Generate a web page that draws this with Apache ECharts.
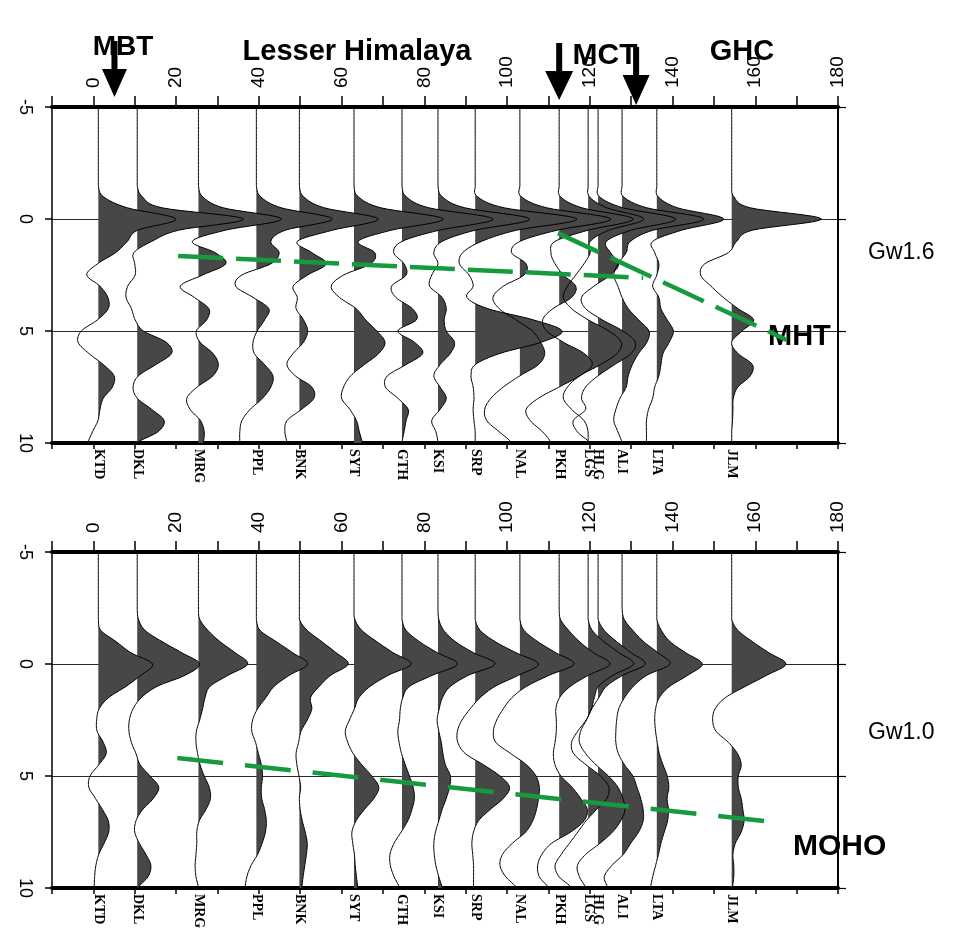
<!DOCTYPE html>
<html>
<head>
<meta charset="utf-8">
<script src="https://cdn.jsdelivr.net/npm/echarts@6.0.0/dist/echarts.min.js"></script>
<style>
  html, body { margin: 0; padding: 0; background: #ffffff; }
  #chart { width: 968px; height: 932px; }
</style>
</head>
<body>
<div id="chart"></div>
<script>
// Sample times (s) shared by every receiver-function trace
const TIME = [-5, -4.5, -4, -3.5, -3, -2.5, -2, -1.5, -1, -0.5, 0, 0.5, 1, 1.5, 2, 2.5,
              3, 3.5, 4, 4.5, 5, 5.5, 6, 6.5, 7, 7.5, 8, 8.5, 9, 9.5, 10];

// Stations along the profile and their distance (km)
const STATIONS = ['KTD', 'DKL', 'MRG', 'PPL', 'BNK', 'SYT', 'GTH', 'KSI',
                  'SRP', 'NAL', 'PKH', 'LGS', 'HLG', 'ALI', 'LTA', 'JLM'];
const DISTANCE = [1.2, 10.6, 25.4, 39.4, 49.8, 63.0, 74.6, 83.3,
                  92.3, 103.1, 112.6, 119.6, 122.0, 127.8, 136.2, 154.3];

// Distance axis tick labels (km) and time axis ticks (s)
const DIST_LABELS = [0, 20, 40, 60, 80, 100, 120, 140, 160, 180];
const TIME_TICKS = [-5, 0, 5, 10];

// Gaussian width 1.6 traces (deflection in km of the distance axis)
const KTD_16 = [0,0,0,0,0,0,0,0, 1.2, 7.0, 18.8, 9.5, 7.0, 4.2, -0.2, -2.8, 0.4, 2.3, 2.4, -0.2, -4.1, -4.9, -2.3, 1.2, 3.8, 3.4, 1.2, 0.4, -0.1, -1.4, -2.5];
const DKL_16 = [0,0,0,0,0,0,0,0, 1.2, 6.0, 25.7, 10.0, 3.5, -0.8, -0.6, -0.5, -2.3, -2.7, -1.4, -0.5, 1.5, 7.0, 8.3, 4.5, 0.3, -1.0, 0.0, 3.5, 6.5, 5.0, 0];
const MRG_16 = [0,0,0,0,0,0,0,0, 1.0, 6.0, 20.1, 6.5, -1.5, 4.0, 6.6, 1.0, -4.4, -1.0, 2.5, 2.0, -0.5, 0.4, 3.5, 4.8, 3.5, -0.3, -2.8, -2.0, 0.5, 1.4, 1.2];
const PPL_16 = [0,0,0,0,0,0,0,0, 1.0, 6.0, 18.4, 7.0, 3.5, 5.5, 3.5, -3.5, -5.0, -0.8, 3.0, 2.0, 0.2, -0.8, -0.5, 2.0, 4.0, 3.5, 1.5, -1.5, -3.5, -4.0, -4.0];
const BNK_16 = [0,0,0,0,0,0,0,0, 1.0, 6.0, 19.1, 8.0, -0.5, 3.0, 6.5, 2.0, -1.5, -0.5, -0.8, 1.0, 2.0, 1.0, -1.5, -3.0, -1.0, 3.0, 3.5, 0.5, -3.0, -3.5, -3.0];
const SYT_16 = [0,0,0,0,0,0,0,0, 1.0, 6.5, 21.6, 9.0, 1.0, 5.0, 4.0, -2.5, -5.5, -3.5, 0.5, 2.8, 5.5, 7.5, 6.0, 2.5, -0.8, -2.5, -3.0, -1.0, 0.6, 1.3, 2.0];
const GTH_16 = [0,0,0,0,0,0,0,0, 1.0, 6.5, 22.0, 9.0, 0, -2.0, 0.5, 1.0, -2.5, -1.5, 2.5, 3.5, -1.0, 3.0, 5.0, 1.0, -3.5, -4.0, -1.0, 1.5, 1.0, 0.5, 0];
const KSI_16 = [0,0,0,0,0,0,0,0, 1.0, 6.5, 22.2, 9.0, 1.0, -1.0, 0, -1.5, -2.0, 1.0, 2.0, 1.5, 2.0, 4.0, 3.0, 0.5, -1.0, 0.5, 2.0, 0.5, -1.5, -0.5, 0];
const SRP_16 = [0,0,0,0,0,0,0,0, 0.5, 7.0, 24.6, 10.0, 1.5, -3.0, -3.8, -1.5, -0.5, -2.0, 3.0, 14.0, 21.0, 16.0, 6.0, 0, -1.0, -0.5, -0.3, -0.5, -0.3, 0, 0];
const NAL_16 = [0,0,0,0,0,0,0,0, 0.3, 6.5, 22.0, 9.0, 0, -2.0, 1.5, 1.0, -4.0, -6.5, -5.0, -1.0, 3.0, 5.0, 6.0, 4.5, 0, -4.0, -7.0, -8.5, -8.0, -5.0, -2.0];
const PKH_16 = [0,0,0,0,0,0,0,0, 0.3, 5.5, 17.9, 7.0, -1.0, -2.0, -1.0, 1.0, 4.0, 3.0, -1.5, -4.0, -3.0, 1.0, 6.0, 8.0, 5.0, 0, -5.0, -8.0, -7.0, -4.0, -2.0];
const LGS_16 = [0,0,0,0,0,0,0,0, 0.3, 4.5, 13.5, 5.0, 0.5, 0.5, -1.0, -3.0, -5.0, -6.0, -4.0, 0, 5.0, 8.0, 7.0, 3.0, -2.0, -5.0, -6.0, -4.0, -1.0, 0, 0];
const HLG_16 = [0,0,0,0,0,0,0,0, 0.3, 6.0, 18.8, 8.0, 2.0, 3.0, 5.0, 3.0, -1.0, -4.0, -3.0, 1.0, 6.0, 9.0, 8.0, 4.0, 0, -3.0, -4.0, -3.0, -6.0, -5.0, -2.0];
const ALI_16 = [0,0,0,0,0,0,0,0, 0.3, 6.0, 19.8, 7.5, 2.0, 1.0, -1.0, -2.0, -1.0, 0, 1.5, 4.0, 6.5, 6.0, 4.0, 2.5, 1.5, 1.0, -0.5, -1.5, -2.0, -1.0, 0];
const LTA_16 = [0,0,0,0,0,0,0,0, 0.3, 5.0, 16.2, 6.0, -1.0, -0.5, 0.5, 0, -1.0, 0.5, 1.0, 2.5, 4.0, 3.0, 1.5, 1.0, 0.5, -0.5, -1.0, -2.0, -2.5, -2.5, -2.5];
const JLM_16 = [0,0,0,0,0,0,0,0, 0.5, 4.5, 21.7, 5.0, 1.2, -0.8, -6.5, -7.5, -5.0, -2.0, 1.5, 5.3, 2.5, 0, 1.5, 5.0, 4.5, 1.5, 0.4, 0.3, 0.2, 0, 0];

// Gaussian width 1.0 traces
const KTD_10 = [0,0,0,0,0,0,0, 0.6, 4.3, 7.9, 13.1, 10.3, 6.7, 2.5, 0.2, -0.4, -0.3, 1.2, 1.9, 0.1, -2.0, -2.3, -0.7, 1.0, 2.4, 2.5, 1.4, 0.1, -0.6, -0.9, -1.0];
const DKL_10 = [0,0,0,0,0,0, 0.3, 1.9, 6.0, 10.8, 15.1, 11.6, 4.8, 1.0, -1.0, -1.9, -2.0, -1.4, -0.3, 0.7, 3.1, 5.2, 3.9, 1.3, -0.3, -0.6, 0.5, 2.1, 3.3, 2.6, 0.2];
const MRG_10 = [0,0,0,0,0,0, 0.3, 2.3, 5.2, 8.9, 11.9, 7.2, 2.8, 1.6, 1.0, 0.3, -0.5, -0.6, -0.2, 0.4, 1.4, 2.6, 2.9, 1.8, 0.2, -0.4, -0.4, -0.6, -0.8, -0.6, 0];
const PPL_10 = [0,0,0,0,0,0,0, 0.9, 4.8, 8.8, 12.4, 8.0, 4.3, 2.3, 0.3, -0.9, -1.1, -0.2, 0.5, 1.2, 1.5, 1.2, 1.3, 2.0, 2.4, 2.2, 1.4, 0.3, -1.3, -2.3, -2.7];
const BNK_10 = [0,0,0,0,0,0,0, 1.9, 5.4, 8.9, 11.8, 7.6, 4.8, 2.7, 3.0, 1.9, 0.4, -0.2, -0.8, -0.6, -0.1, 0.3, 0, 0.2, 0.7, 1.4, 1.9, 1.7, 1.3, 0.9, 0.6];
const SYT_10 = [0,0,0,0,0,0, 0.2, 1.9, 5.5, 9.5, 13.8, 8.3, 3.9, 1.2, 0.1, -1.1, -2.1, -1.5, -0.2, 1.9, 4.3, 6.0, 4.8, 2.5, 0.5, -0.5, -0.3, 0.1, 0.3, 0.6, 0.9];
const GTH_10 = [0,0,0,0,0,0,0, 1.0, 4.2, 8.6, 13.4, 7.4, 1.8, 0.2, -0.4, -0.6, -1.0, -0.7, -0.1, 0.8, 1.8, 2.7, 3.0, 2.4, 1.4, -0.2, -1.9, -2.9, -2.8, -1.9, -0.6];
const KSI_10 = [0,0,0,0,0,0, 0.2, 1.4, 4.2, 8.6, 13.8, 7.4, 3.0, 1.1, 0.3, -0.2, 0.2, 0.8, 1.2, 1.8, 3.0, 2.8, 2.0, 1.0, 0.2, -0.6, -1.0, -0.9, -0.5, 0.2, 1.0];
const SRP_10 = [0,0,0,0,0,0,0, 1.2, 4.8, 9.9, 15.3, 10.5, 4.8, 1.2, -1.2, -3.2, -4.3, -4.2, -2.4, 2.0, 6.0, 8.3, 6.8, 3.6, 0.8, -0.4, -0.8, -0.6, -0.4, -0.4, -0.4];
const NAL_10 = [0,0,0,0,0,0,0, 1.0, 4.3, 8.7, 13.1, 7.1, 1.6, -1.9, -4.0, -5.6, -6.4, -5.8, -2.2, 1.6, 3.9, 4.7, 4.5, 4.0, 3.1, 1.4, -1.8, -4.2, -4.8, -3.4, -0.8];
const PKH_10 = [0,0,0,0,0,0, 0.3, 2.3, 4.9, 8.3, 12.3, 7.1, 2.7, 0.1, -0.8, -0.7, -0.7, -1.0, -1.4, -1.0, 0.4, 3.1, 5.2, 6.8, 6.0, 2.8, -1.8, -4.2, -5.2, -4.8, -2.6];
const LGS_10 = [0,0,0,0,0,0,0, 1.0, 3.8, 7.5, 11.0, 6.0, 2.5, 1.5, 0.8, -0.5, -2.5, -4.0, -3.5, -0.5, 3.0, 5.0, 4.5, 2.0, -0.5, -2.5, -4.5, -6.5, -8.0, -7.0, -4.0];
const HLG_10 = [0,0,0,0,0,0,0, 1.5, 4.5, 8.0, 11.4, 6.0, 2.0, 0.2, -1.5, -2.8, -4.2, -4.5, -3.0, -0.5, 2.5, 4.8, 6.0, 6.5, 5.5, 3.5, 0.5, -3.0, -5.0, -4.5, -3.0];
const ALI_10 = [0,0,0,0,0,0, 0.5, 2.6, 5.2, 8.7, 11.6, 6.0, 2.7, 0.6, -0.8, -1.3, -1.5, -1.5, -0.9, 0.6, 2.6, 3.6, 4.5, 5.1, 5.1, 4.0, 2.1, 0.3, -2.5, -4.3, -3.5];
const LTA_10 = [0,0,0,0,0,0,0, 1.1, 3.2, 7.0, 11.0, 7.5, 3.1, 0.6, -0.3, -0.5, -0.3, 0.1, 0.6, 1.5, 2.5, 2.9, 2.5, 2.8, 2.6, 1.8, 1.0, 0.4, -0.3, -1.0, -1.5];
const JLM_10 = [0,0,0,0,0,0,0, 1.5, 5.0, 9.0, 13.1, 8.5, 3.3, -1.5, -4.0, -4.6, -3.8, -0.8, 1.4, 2.3, 1.6, 1.6, 2.3, 2.7, 3.0, 2.3, 0.9, 0.3, 0.5, 0.5, 0.2];

// Interpreted interfaces: [distance km, time s] end points
const MHT_FLAT = [[20.5, 1.65], [132.9, 2.63]];
const MHT_RAMP = [[112.3, 0.63], [167.6, 5.4]];
const MOHO_LINE = [[20.3, 4.2], [164.3, 7.05]];

const GW16 = [KTD_16, DKL_16, MRG_16, PPL_16, BNK_16, SYT_16, GTH_16, KSI_16,
              SRP_16, NAL_16, PKH_16, LGS_16, HLG_16, ALI_16, LTA_16, JLM_16];
const GW10 = [KTD_10, DKL_10, MRG_10, PPL_10, BNK_10, SYT_10, GTH_10, KSI_10,
              SRP_10, NAL_10, PKH_10, LGS_10, HLG_10, ALI_10, LTA_10, JLM_10];

const SANS = '"Liberation Sans", Arial, sans-serif';
const SERIF = '"Liberation Serif", "Times New Roman", serif';
const WIGGLE_FILL = '#474747';
const GREEN = '#159b3e';
const SUB = 8;

// Catmull-Rom resampling of one trace: returns [time, deflection] pairs
function smoothTrace(vals) {
  const out = [];
  const n = vals.length;
  for (let i = 0; i < n - 1; i++) {
    const p0 = vals[Math.max(i - 1, 0)], p1 = vals[i], p2 = vals[i + 1], p3 = vals[Math.min(i + 2, n - 1)];
    for (let k = 0; k < SUB; k++) {
      const s = k / SUB;
      let a = 0.5 * (2 * p1 + (-p0 + p2) * s + (2 * p0 - 5 * p1 + 4 * p2 - p3) * s * s +
                     (-p0 + 3 * p1 - 3 * p2 + p3) * s * s * s);
      if (p1 === 0 && p2 === 0) a = 0;
      out.push([TIME[i] + (TIME[i + 1] - TIME[i]) * s, a]);
    }
  }
  out.push([TIME[n - 1], vals[n - 1]]);
  return out;
}

const SMOOTH = [GW16.map(smoothTrace), GW10.map(smoothTrace)];

// Positive half of each wiggle, filled between the trace and its baseline
function fillRenderer(panel) {
  return function (params, api) {
    const idx = api.value(2);
    const base = DISTANCE[idx];
    const pts = SMOOTH[panel][idx];
    const children = [];
    let poly = null;
    for (let j = 0; j < pts.length; j++) {
      const t = pts[j][0], a = pts[j][1];
      if (a > 0) {
        if (!poly) {
          let tc = t;
          if (j > 0) {
            const t0 = pts[j - 1][0], a0 = pts[j - 1][1];
            tc = t0 + (t - t0) * (0 - a0) / (a - a0);
          }
          poly = [api.coord([base, tc])];
        }
        poly.push(api.coord([base + a, t]));
      } else if (poly) {
        const t0 = pts[j - 1][0], a0 = pts[j - 1][1];
        const tc = t0 + (t - t0) * a0 / (a0 - a);
        poly.push(api.coord([base, tc]));
        children.push({ type: 'polygon', shape: { points: poly }, style: { fill: WIGGLE_FILL } });
        poly = null;
      }
    }
    if (poly) {
      poly.push(api.coord([base, pts[pts.length - 1][0]]));
      children.push({ type: 'polygon', shape: { points: poly }, style: { fill: WIGGLE_FILL } });
    }
    return { type: 'group', children: children };
  };
}

// Wiggle outline plus the station code under the panel
function lineRenderer(panel) {
  return function (params, api) {
    const idx = api.value(2);
    const base = DISTANCE[idx];
    const pts = SMOOTH[panel][idx].map(p => api.coord([base + p[1], p[0]]));
    const foot = api.coord([base, 10]);
    return {
      type: 'group',
      children: [
        { type: 'polyline', shape: { points: pts },
          style: { stroke: '#000', lineWidth: 1, fill: null } },
        { type: 'text', x: foot[0], y: foot[1] + 6, rotation: -Math.PI / 2,
          style: { text: STATIONS[idx], font: 'bold 14px ' + SERIF, fill: '#000',
                   align: 'left', verticalAlign: 'middle' } }
      ]
    };
  };
}

const stationData = DISTANCE.map((d, i) => [d, 0, i]);

const grids = [
  { left: 52, top: 107, width: 786, height: 336, outerBoundsMode: 'none' },
  { left: 52, top: 552, width: 786, height: 336, outerBoundsMode: 'none' }
];

const xAxes = [], yAxes = [], series = [];
[0, 1].forEach(g => {
  xAxes.push({
    gridIndex: g, type: 'value', position: 'top', min: -10, max: 180, interval: 10,
    axisLine: { onZero: false, lineStyle: { color: '#000', width: 4 } },
    axisTick: { length: 11, lineStyle: { color: '#000', width: 1.5 } },
    axisLabel: {
      rotate: -90, margin: 19, fontSize: 19, fontFamily: SANS, color: '#000',
      formatter: v => (DIST_LABELS.indexOf(Math.round(v)) >= 0 ? String(Math.round(v)) : '')
    },
    splitLine: { show: false }
  });
  xAxes.push({
    gridIndex: g, type: 'value', position: 'bottom', min: -10, max: 180, interval: 10,
    axisLine: { onZero: false, lineStyle: { color: '#000', width: 4 } },
    axisTick: { length: 6, lineStyle: { color: '#000', width: 1.5 } },
    axisLabel: { show: false },
    splitLine: { show: false }
  });
  yAxes.push({
    gridIndex: g, type: 'value', inverse: true, min: -5, max: 10, interval: 5, position: 'left',
    axisLine: { onZero: false, lineStyle: { color: '#000', width: 1.5 } },
    axisTick: { length: 7, lineStyle: { color: '#000', width: 1.5 } },
    axisLabel: {
      rotate: -90, margin: 18, fontSize: 18, fontFamily: SANS, color: '#000',
      formatter: v => (TIME_TICKS.indexOf(Math.round(v)) >= 0 ? String(Math.round(v)) : '')
    },
    splitLine: { show: true, lineStyle: { color: '#2a2a2a', width: 1.2 } }
  });
  yAxes.push({
    gridIndex: g, type: 'value', inverse: true, min: -5, max: 10, interval: 5, position: 'right',
    axisLine: { onZero: false, lineStyle: { color: '#000', width: 2 } },
    axisTick: { length: 8, lineStyle: { color: '#000', width: 1.2 } },
    axisLabel: { show: false },
    splitLine: { show: false }
  });
  const xi = 2 * g, yi = 2 * g;
  series.push({
    type: 'custom', xAxisIndex: xi, yAxisIndex: yi, clip: false, z: 2,
    renderItem: fillRenderer(g), data: stationData, silent: true
  });
  series.push({
    type: 'custom', xAxisIndex: xi, yAxisIndex: yi, clip: false, z: 3,
    renderItem: lineRenderer(g), data: stationData, silent: true
  });
});

function interfaceLine(g, pts, dash) {
  return {
    type: 'line', xAxisIndex: 2 * g, yAxisIndex: 2 * g, data: pts, z: 6,
    showSymbol: false, symbol: 'none', silent: true, animation: false,
    lineStyle: { color: GREEN, width: 4.5, type: dash, cap: 'butt' }
  };
}
series.push(interfaceLine(0, MHT_FLAT, [45, 13]));
series.push(interfaceLine(0, MHT_RAMP, [45, 13]));
series.push(interfaceLine(1, MOHO_LINE, [46, 22]));

const chart = echarts.init(document.getElementById('chart'), null, { renderer: 'canvas' });
chart.setOption({
  backgroundColor: '#ffffff',
  animation: false,
  grid: grids,
  xAxis: xAxes,
  yAxis: yAxes,
  series: series
});

// Fault arrows above the profile, placed on the distance axis
const kmToPx = km => chart.convertToPixel({ xAxisIndex: 0 }, km);
function arrow(km, yTop, yHead, yTip, halfHead, halfShaft) {
  const x = kmToPx(km);
  return {
    type: 'polygon', silent: true,
    shape: { points: [[x - halfShaft, yTop], [x + halfShaft, yTop], [x + halfShaft, yHead],
                      [x + halfHead, yHead], [x, yTip], [x - halfHead, yHead], [x - halfShaft, yHead]] },
    style: { fill: '#000' }
  };
}
function label(text, x, y, size, weight, align) {
  return {
    type: 'text', silent: true, x: x, y: y,
    style: { text: text, font: weight + ' ' + size + 'px ' + SANS, fill: '#000',
             align: align || 'center', verticalAlign: 'alphabetic',
             textAlign: align || 'center', textVerticalAlign: 'alphabetic' }
  };
}

chart.setOption({
  graphic: [
    arrow(5.1, 41, 69, 97, 12.5, 3),
    arrow(112.6, 43, 71, 100, 14, 3),
    arrow(131.2, 47, 75, 105, 13.5, 3),
    label('MBT', 123, 33, 28, 'bold'),
    label('Lesser Himalaya', 357, 37, 29, 'bold'),
    label('MCT', 605, 41, 30, 'bold'),
    label('GHC', 742, 37, 29, 'bold'),
    label('MHT', 768, 322, 29, 'bold', 'left'),
    label('MOHO', 793, 832, 30, 'bold', 'left'),
    label('Gw1.6', 868, 241, 23, 'normal', 'left'),
    label('Gw1.0', 868, 721, 23, 'normal', 'left')
  ]
});
</script>
</body>
</html>
